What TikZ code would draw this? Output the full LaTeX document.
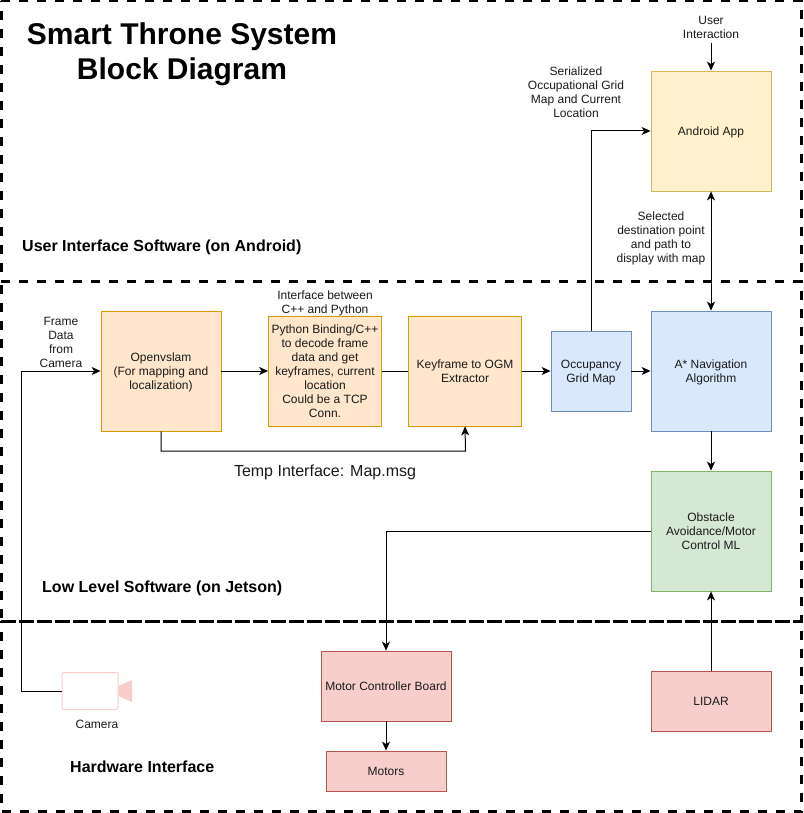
\documentclass[tikz,border=0pt]{standalone}
\usepackage{fontspec}
\setmainfont{Liberation Sans}
\usetikzlibrary{arrows.meta,calc}
\definecolor{yf}{HTML}{FFF2CC}\definecolor{ys}{HTML}{D6B656}
\definecolor{bf}{HTML}{DAE8FC}\definecolor{bs}{HTML}{6C8EBF}
\definecolor{of}{HTML}{FFE6CC}\definecolor{os}{HTML}{D79B00}
\definecolor{gf}{HTML}{D5E8D4}\definecolor{gs}{HTML}{82B366}
\definecolor{rf}{HTML}{F8CECC}\definecolor{rs}{HTML}{B85450}
\definecolor{ink}{HTML}{1A1A1A}
\tikzset{
 x=1pt,y=-1pt,
 box/.style={draw,line width=.8pt,align=center,text=ink,font=\fontsize{12}{14}\selectfont,inner sep=0pt,minimum width=#1},
 lab/.style={align=center,inner sep=0pt,text=ink,font=\fontsize{12}{14}\selectfont},
 sect/.style={inner sep=0pt,anchor=base west,font=\fontsize{16}{18}\selectfont\bfseries},
 zone/.style={draw=black,line width=3pt,dash pattern=on 9pt off 9pt},
 conn/.style={line width=1pt,-{Stealth[length=9pt,width=8pt,inset=2.5pt]}},
 both/.style={line width=1pt,{Stealth[length=9pt,width=8pt,inset=2.5pt]}-{Stealth[length=9pt,width=8pt,inset=2.5pt]}},
 plain/.style={line width=1pt},
}
\newcommand{\dn}[2][2pt]{\raisebox{-#1}[\height][\depth]{\begin{tabular}{@{}c@{}}#2\end{tabular}}}
\begin{document}
\begin{tikzpicture}
\useasboundingbox (0,0) rectangle (803,813);
\fill[white] (0,0) rectangle (803,813);
\draw[zone] (1,1) -- (801.5,1) -- (801.5,281) -- (1,281) -- cycle;
\draw[zone] (1,281) -- (801.5,281) -- (801.5,621) -- (1,621) -- cycle;
\draw[zone] (1,621) -- (801.5,621) -- (801.5,811.5) -- (1,811.5) -- cycle;
% boxes
\node[box=120pt,minimum height=120pt,fill=yf,draw=ys] (android) at (711,131) {\dn{Android App}};
\node[box=120pt,minimum height=120pt,fill=bf,draw=bs] (astar) at (711,371) {\dn{A* Navigation\\Algorithm}};
\node[box=80pt,minimum height=80pt,fill=bf,draw=bs] (ogm) at (591,371) {\dn{Occupancy\\Grid Map}};
\node[box=120pt,minimum height=120pt,fill=gf,draw=gs] (obst) at (711,531) {\dn{Obstacle\\Avoidance/Motor\\Control ML}};
\node[box=120pt,minimum height=120pt,fill=of,draw=os] (slam) at (161,371) {\dn{Openvslam\\(For mapping and\\localization)}};
\node[box=113pt,minimum height=110pt,fill=of,draw=os] (py) at (325,371) {\dn[1.5pt]{Python Binding/C++\\to decode frame\\data and get\\keyframes, current\\location\\Could be a TCP\\Conn.}};
\node[box=113pt,minimum height=110pt,fill=of,draw=os] (kf) at (465,371) {\dn{Keyframe to OGM\\Extractor}};
\node[box=130pt,minimum height=70pt,fill=rf,draw=rs] (mc) at (386,686) {\dn{Motor Controller Board}};
\node[box=120pt,minimum height=40pt,fill=rf,draw=rs] (motors) at (386,771) {\dn{Motors}};
\node[box=120pt,minimum height=60pt,fill=rf,draw=rs] (lidar) at (711,701) {\dn{LIDAR}};
% camera
\node[draw=rf,line width=1pt,rounded corners=2pt,minimum width=56pt,minimum height=37pt,inner sep=0pt] (cam) at (90,691) {};
\fill[rf] (118.5,686) -- (132,680) -- (132,702) -- (118.5,696) -- cycle;
% connectors
\coordinate (ui) at (711,43);
\draw[conn] (ui) -- (android.north);
\draw[conn] (cam.west) -- (21,691) -- (21,371) -- (slam.west);
\draw[conn] (slam.east) -- (py.west);
\draw[plain] (py.east) -- (kf.west);
\draw[conn] (kf.east) -- (ogm.west);
\draw[conn] (slam.south) -- (161,451) -- (465.5,451) -- (kf.south);
\draw[conn] (ogm.north) -- (591,131) -- (android.west);
\draw[conn] (ogm.east) -- (astar.west);
\draw[both] (android.south) -- (astar.north);
\draw[conn] (astar.south) -- (obst.north);
\draw[conn] (obst.west) -- (386,531) -- (mc.north);
\draw[conn] (mc.south) -- (motors.north);
\draw[conn] (lidar.north) -- (obst.south);
% labels
\node[inner sep=0pt,align=center,font=\fontsize{30}{35}\selectfont\bfseries] (title) at (182,54.5) {Smart Throne System\\Block Diagram};
\node[sect] (s1) at (22,251) {User Interface Software (on Android)};
\node[sect] (s2) at (42,592) {Low Level Software (on Jetson)};
\node[sect] (s3) at (70,772) {Hardware Interface};
\node[lab] (l1) at (711,27) {User\\Interaction};
\node[lab] (l2) at (576,92) {Serialized\\Occupational Grid\\Map and Current\\Location};
\node[lab] (l3) at (661,238) {Selected\\destination point\\and path to\\display with map};
\node[lab] (l4) at (61,342) {Frame\\Data\\from\\Camera};
\node[lab] (l5) at (325,303) {Interface between\\C++ and Python};
\node[inner sep=0pt,text=ink,font=\fontsize{16}{18}\selectfont] (l6) at (325,472) {Temp Interface: Map.msg};
\node[lab] (l7) at (97,724) {Camera};
\end{tikzpicture}
\end{document}
